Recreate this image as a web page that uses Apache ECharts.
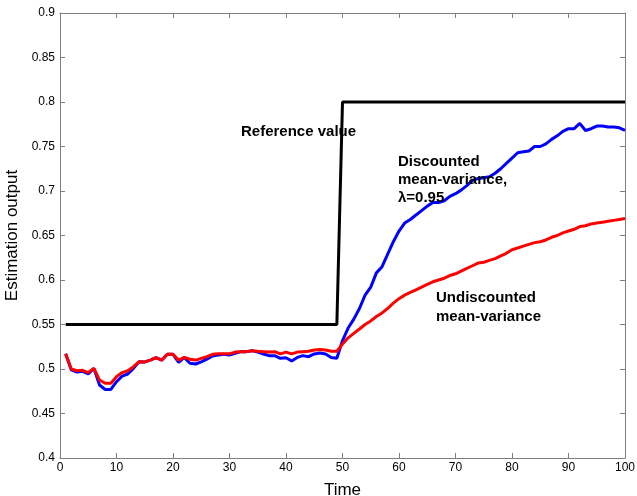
<!DOCTYPE html>
<html>
<head>
<meta charset="utf-8">
<script src="https://cdn.jsdelivr.net/npm/echarts@6/dist/echarts.min.js"></script>
<style>html,body{margin:0;padding:0;background:#fff}#c{width:637px;height:496px}</style>
</head>
<body>
<div id="c"></div>
<script>
var xTicks = [0,10,20,30,40,50,60,70,80,90,100];
var yTicks = [0.4,0.45,0.5,0.55,0.6,0.65,0.7,0.75,0.8,0.85,0.9];
var refTime = [1, 49, 50, 100];
var refValue = [0.55, 0.55, 0.8, 0.8];
// t = 1..100
var discounted = [
0.517,0.499,0.4966,0.4974,0.4944,0.5007,0.482,0.477,0.477,0.4857,
0.492,0.4944,0.5007,0.5082,0.508,0.510,0.5127,0.510,0.5165,0.5165,
0.5075,0.513,0.5064,0.5056,0.508,0.511,0.5146,0.5157,0.5165,0.5157,
0.5176,0.5195,0.5195,0.5206,0.519,0.5169,0.515,0.515,0.512,0.5127,
0.509,0.513,0.515,0.5138,0.5169,0.518,0.5169,0.513,0.512,0.532,
0.546,0.556,0.568,0.583,0.592,0.608,0.615,0.629,0.643,0.655,
0.664,0.668,0.673,0.678,0.683,0.687,0.687,0.689,0.694,0.697,
0.701,0.706,0.712,0.714,0.715,0.716,0.720,0.725,0.731,0.737,
0.743,0.744,0.745,0.750,0.750,0.753,0.758,0.762,0.767,0.770,
0.770,0.776,0.768,0.770,0.773,0.773,0.772,0.772,0.771,0.768];
var undiscounted = [
0.517,0.500,0.498,0.4985,0.496,0.5007,0.4876,0.484,0.484,0.4914,
0.496,0.498,0.5026,0.5082,0.508,0.510,0.5127,0.510,0.5165,0.5165,
0.510,0.513,0.511,0.510,0.512,0.5138,0.5165,0.517,0.517,0.517,
0.519,0.5195,0.5195,0.5206,0.520,0.5195,0.519,0.5195,0.517,0.519,
0.517,0.519,0.5195,0.520,0.5213,0.522,0.5213,0.520,0.520,0.528,
0.535,0.540,0.545,0.550,0.554,0.559,0.563,0.568,0.574,0.579,
0.583,0.586,0.589,0.592,0.595,0.598,0.600,0.602,0.605,0.607,
0.610,0.613,0.616,0.619,0.620,0.622,0.624,0.627,0.630,0.634,
0.636,0.638,0.640,0.642,0.643,0.645,0.648,0.650,0.653,0.655,
0.657,0.660,0.661,0.663,0.664,0.665,0.666,0.667,0.668,0.669];

function pairs(xs, ys){ return ys.map(function(v,i){ return [xs[i], v]; }); }
function idxPairs(ys){ return ys.map(function(v,i){ return [i+1, v]; }); }

var frame = '#7f7f7f';
var font = '"Liberation Sans", Arial, sans-serif';
var chart = echarts.init(document.getElementById('c'), null, {renderer:'canvas'});
var axisCommon = {
  type:'value', splitLine:{show:false},
  axisLine:{show:true, onZero:false, lineStyle:{color:frame, width:1}},
  axisTick:{show:true, inside:true, length:5, lineStyle:{color:frame}}
};
chart.setOption({
  animation:false,
  backgroundColor:'#fff',
  grid:{left:60, right:12, top:13, bottom:38, containLabel:false, outerBoundsMode:'none'},
  xAxis:[
    Object.assign({}, axisCommon, {min:xTicks[0], max:xTicks[xTicks.length-1], interval:10,
      position:'bottom', name:'Time', nameLocation:'middle', nameGap:24,
      nameTextStyle:{fontSize:17, color:'#000', fontFamily:font},
      axisLabel:{color:'#000', fontSize:12, fontFamily:font, margin:4, showMaxLabel:true, showMinLabel:true}}),
    Object.assign({}, axisCommon, {min:xTicks[0], max:xTicks[xTicks.length-1], interval:10,
      position:'top', axisLabel:{show:false}})
  ],
  yAxis:[
    Object.assign({}, axisCommon, {min:yTicks[0], max:yTicks[yTicks.length-1], interval:0.05,
      position:'left', name:'Estimation output', nameLocation:'middle', nameGap:38, nameRotate:90,
      nameTextStyle:{fontSize:17, color:'#000', fontFamily:font},
      axisLabel:{color:'#000', fontSize:12, fontFamily:font, margin:5,
        formatter:function(v){ return String(+v.toFixed(2)); }}}),
    Object.assign({}, axisCommon, {min:yTicks[0], max:yTicks[yTicks.length-1], interval:0.05,
      position:'right', axisLabel:{show:false}})
  ],
  series:[
    {type:'line', data:pairs(refTime, refValue), showSymbol:false, lineStyle:{color:'#000', width:3}, z:3},
    {type:'line', data:idxPairs(discounted), showSymbol:false, lineStyle:{color:'#0000ff', width:3}, z:4},
    {type:'line', data:idxPairs(undiscounted), showSymbol:false, lineStyle:{color:'#ff0000', width:3}, z:5}
  ],
  graphic:[
    {type:'text', left:241, top:123, z:10, style:{text:'Reference value', font:'bold 15px '+font, fill:'#000', lineHeight:18}},
    {type:'text', left:398, top:153, z:10, style:{text:'Discounted\nmean-variance,\nλ=0.95', font:'bold 15px '+font, fill:'#000', lineHeight:18}},
    {type:'text', left:436, top:289, z:10, style:{text:'Undiscounted\nmean-variance', font:'bold 15px '+font, fill:'#000', lineHeight:18.5}}
  ]
});
</script>
</body>
</html>
